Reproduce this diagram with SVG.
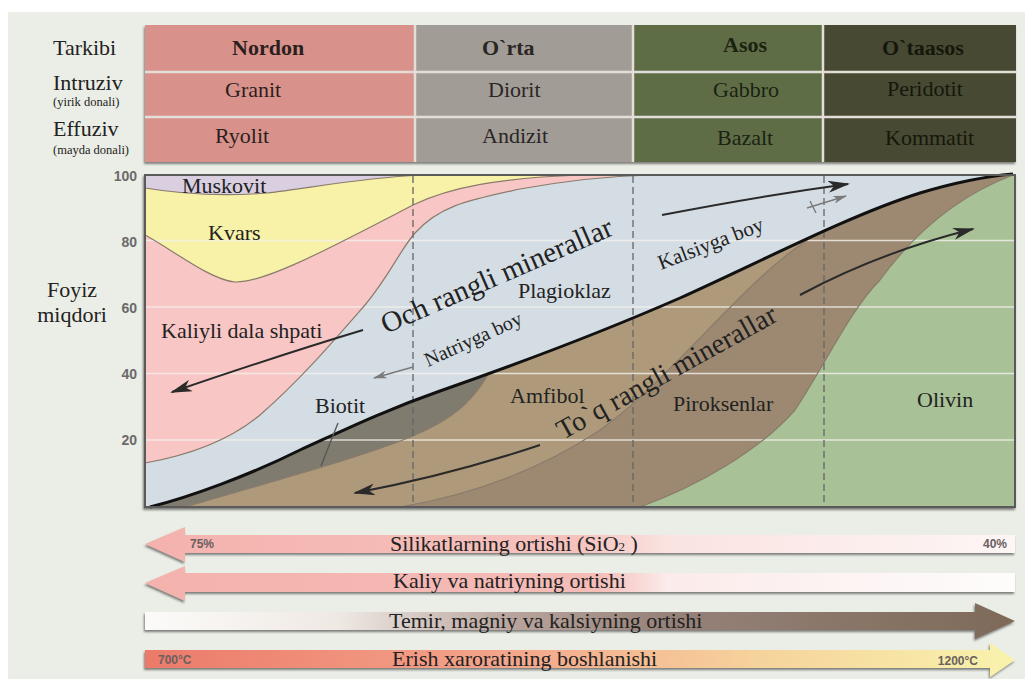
<svg xmlns="http://www.w3.org/2000/svg" width="1025" height="679" viewBox="0 0 1025 679">
<defs>
<style>
.lbl{font-family:"Liberation Serif","Times New Roman",serif;font-size:22px;fill:#222;}
.hdr{font-family:"Liberation Serif","Times New Roman",serif;font-size:22px;}
.b{font-weight:bold;}
.small{font-size:12.5px;}
.num{font-family:"Liberation Sans",Arial,sans-serif;font-weight:bold;font-size:14px;fill:#6a6a6a;}
.pct{font-family:"Liberation Sans",Arial,sans-serif;font-weight:bold;font-size:12px;fill:#6a6060;}
.bnd{fill:none;stroke:#8a7b6c;stroke-width:1.2;}
.grid{stroke:#f3f1ed;stroke-width:1.6;opacity:.8;}
.dash{stroke:#666;stroke-width:1.3;stroke-dasharray:7 4;fill:none;}
.arr{fill:none;stroke:#2a2a2a;stroke-width:2;}
.arrg{fill:none;stroke:#7a7a7a;stroke-width:1.4;}
.sep{stroke:#e3dfd8;stroke-width:2.5;}
</style>
<marker id="ah" markerUnits="userSpaceOnUse" markerWidth="22" markerHeight="12" viewBox="0 0 22 12" refX="20" refY="6" orient="auto">
<path d="M0,0 L22,6 L0,12 L6,6 Z" fill="#2a2a2a"/>
</marker>
<marker id="ahg" markerUnits="userSpaceOnUse" markerWidth="14" markerHeight="8" viewBox="0 0 14 8" refX="13" refY="4" orient="auto">
<path d="M0,0 L14,4 L0,8 L4,4 Z" fill="#7a7a7a"/>
</marker>
<linearGradient id="g1" x1="145" y1="0" x2="1015" y2="0" gradientUnits="userSpaceOnUse">
<stop offset="0" stop-color="#f4b2ad"/><stop offset="0.5" stop-color="#f6c2be"/><stop offset="0.6" stop-color="#fae3e1"/><stop offset="1" stop-color="#fdf6f5"/>
</linearGradient>
<linearGradient id="g2" x1="145" y1="0" x2="1015" y2="0" gradientUnits="userSpaceOnUse">
<stop offset="0" stop-color="#f4b2ad"/><stop offset="0.52" stop-color="#f5bcb8"/><stop offset="0.6" stop-color="#fbebea"/><stop offset="1" stop-color="#fefcfc"/>
</linearGradient>
<linearGradient id="g3" x1="145" y1="0" x2="1015" y2="0" gradientUnits="userSpaceOnUse">
<stop offset="0" stop-color="#fcfbf9"/><stop offset="0.22" stop-color="#efe9e4"/><stop offset="0.42" stop-color="#b9a59d"/><stop offset="0.6" stop-color="#968279"/><stop offset="1" stop-color="#7e6a58"/>
</linearGradient>
<linearGradient id="g4" x1="145" y1="0" x2="1015" y2="0" gradientUnits="userSpaceOnUse">
<stop offset="0" stop-color="#ec7a6a"/><stop offset="0.4" stop-color="#f3a38a"/><stop offset="0.7" stop-color="#f6d29c"/><stop offset="1" stop-color="#f8f3ac"/>
</linearGradient>
<filter id="sh" x="-5%" y="-20%" width="110%" height="150%">
<feDropShadow dx="-1" dy="2" stdDeviation="1" flood-color="#333" flood-opacity="0.6"/>
</filter>
</defs>

<rect x="0" y="0" width="1025" height="679" fill="#ffffff"/>
<rect x="8" y="12" width="1017" height="667" fill="#ebeee6"/>

<!-- left labels -->
<g id="row-labels">
<text class="lbl" x="53" y="55">Tarkibi</text>
<text class="lbl" x="53" y="90">Intruziv</text>
<text class="lbl small" x="53" y="106">(yirik donali)</text>
<text class="lbl" x="53" y="136">Effuziv</text>
<text class="lbl small" x="53" y="154">(mayda donali)</text>
</g>

<!-- table -->
<g id="table" filter="url(#sh)">
<rect x="145" y="25" width="270" height="137" fill="#d9928b"/>
<rect x="415" y="25" width="218" height="137" fill="#a29c97"/>
<rect x="633" y="25" width="190" height="137" fill="#5e6d47"/>
<rect x="823" y="25" width="193" height="137" fill="#474a33"/>
</g>
<g id="table-lines">
<line class="sep" x1="145" y1="72" x2="1016" y2="72"/>
<line class="sep" x1="145" y1="117" x2="1016" y2="117"/>
<line class="sep" x1="415" y1="25" x2="415" y2="162"/>
<line class="sep" x1="633" y1="25" x2="633" y2="162"/>
<line class="sep" x1="823" y1="25" x2="823" y2="162"/>
</g>
<g id="col-nordon" class="hdr" fill="#2b1f1d">
<text class="b" x="232" y="55">Nordon</text>
<text x="225" y="97">Granit</text>
<text x="215" y="143">Ryolit</text>
</g>
<g id="col-orta" class="hdr" fill="#2a2624">
<text class="b" x="482" y="55">O`rta</text>
<text x="488" y="97">Diorit</text>
<text x="482" y="143">Andizit</text>
</g>
<g id="col-asos" class="hdr" fill="#1b2212">
<text class="b" x="723" y="52">Asos</text>
<text x="713" y="97">Gabbro</text>
<text x="717" y="145">Bazalt</text>
</g>
<g id="col-otaasos" class="hdr" fill="#15170d">
<text class="b" x="882" y="55">O`taasos</text>
<text x="887" y="96">Peridotit</text>
<text x="885" y="145">Kommatit</text>
</g>

<!-- axis -->
<g id="axis">
<text class="lbl" x="72" y="297" text-anchor="middle">Foyiz</text>
<text class="lbl" x="72" y="322" text-anchor="middle">miqdori</text>
<text class="num" x="137" y="181" text-anchor="end">100</text>
<text class="num" x="137" y="247" text-anchor="end">80</text>
<text class="num" x="137" y="313" text-anchor="end">60</text>
<text class="num" x="137" y="379" text-anchor="end">40</text>
<text class="num" x="137" y="445" text-anchor="end">20</text>
</g>

<!-- chart regions -->
<g id="chart">
<rect x="145" y="175" width="870" height="332" fill="#a8c196" stroke="#555" stroke-width="2" filter="url(#sh)"/>
<path id="piroksen" d="M145,175 L145,507 L640,507 C700,485 760,450 795,410 C825,365 850,310 880,280 C915,232 960,195 1013,175 Z" fill="#9d8971"/>
<path id="amfibol" d="M145,175 L145,507 L400,507 C470,495 540,470 600,430 C650,395 700,335 760,278 C785,255 805,240 826,229 L826,175 Z" fill="#ae9a7a"/>
<path id="biotit" d="M145,175 L145,507 L185,507 C260,485 360,458 413,436 C450,420 470,405 488,375 L488,175 Z" fill="#7f7b6f"/>
<path id="plagioklaz" d="M145,175 L145,507 L150,507 C190,497 250,475 300,450 C340,432 380,412 440,391 C520,363 600,333 680,298 C760,262 850,215 920,193 C960,181 990,176 1013,175 Z" fill="#d5dde4"/>
<path id="kaliy" d="M145,175 L145,463 C190,455 230,440 260,415 C300,380 330,345 365,305 C390,275 400,250 415,233 C440,205 470,200 520,189 C570,180 610,176 650,175 Z" fill="#f8c6c4"/>
<path id="kvars" d="M145,175 L145,235 C170,248 210,280 235,282 C265,283 330,248 413,205 C450,187 500,178 580,175 Z" fill="#f7f2a7"/>
<path id="muskovit" d="M145,175 L145,188 C175,193 215,197 267,193 C310,188 360,178 420,175 Z" fill="#d9cfe1"/>
</g>
<g id="grid">
<line class="grid" x1="146" y1="240.5" x2="1014" y2="240.5"/>
<line class="grid" x1="146" y1="307" x2="1014" y2="307"/>
<line class="grid" x1="146" y1="373.5" x2="1014" y2="373.5"/>
<line class="grid" x1="146" y1="440" x2="1014" y2="440"/>
</g>
<g id="boundaries">
<path class="bnd" d="M145,188 C175,193 215,197 267,193 C310,188 360,178 420,175"/>
<path class="bnd" d="M145,235 C170,248 210,280 235,282 C265,283 330,248 413,205 C450,187 500,178 580,175"/>
<path class="bnd" d="M145,463 C190,455 230,440 260,415 C300,380 330,345 365,305 C390,275 400,250 415,233 C440,205 470,200 520,189 C570,180 610,176 650,175"/>
<path class="bnd" d="M185,507 C260,485 360,458 413,436 C450,420 470,405 488,375"/>
<path class="bnd" d="M400,507 C470,495 540,470 600,430 C650,395 700,335 760,278 C785,255 805,240 826,229"/>
<path class="bnd" d="M640,507 C700,485 760,450 795,410 C825,365 850,310 880,280 C915,232 960,195 1013,175"/>
</g>
<g id="dashes">
<line class="dash" x1="413" y1="176" x2="413" y2="506"/>
<line class="dash" x1="633" y1="176" x2="633" y2="506"/>
<line class="dash" x1="824" y1="176" x2="824" y2="506"/>
</g>
<path id="main-boundary" d="M150,507 C190,497 250,475 300,450 C340,432 380,412 440,391 C520,363 600,333 680,298 C760,262 850,215 920,193 C960,181 990,176 1013,174" fill="none" stroke="#111" stroke-width="3"/>
<rect x="145" y="175" width="870" height="332" fill="none" stroke="#5a5a5a" stroke-width="2"/>

<!-- connectors -->
<g id="connectors">
<path class="arr" d="M363,330 Q280,355 172,392" marker-end="url(#ah)"/>
<path class="arr" d="M540,445 Q450,475 355,493" marker-end="url(#ah)"/>
<path class="arr" d="M662,215 Q760,196 848,184" marker-end="url(#ah)"/>
<path class="arr" d="M800,295 Q880,252 973,229" marker-end="url(#ah)"/>
<path class="arrg" d="M413,367 L374,378" marker-end="url(#ahg)"/>
<path class="arrg" d="M807,208 L846,196" marker-end="url(#ahg)"/>
<path class="arrg" d="M810,201 L816,213"/>
<path d="M338,423 L321,466" fill="none" stroke="#555" stroke-width="1.3"/>
</g>

<!-- chart labels -->
<g id="chart-labels" class="lbl">
<text x="182" y="193">Muskovit</text>
<text x="208" y="240">Kvars</text>
<text x="161" y="338">Kaliyli dala shpati</text>
<text x="315" y="413">Biotit</text>
<text x="518" y="298">Plagioklaz</text>
<text x="510" y="403">Amfibol</text>
<text x="673" y="411">Piroksenlar</text>
<text x="917" y="407">Olivin</text>
<text transform="translate(386,334) rotate(-23.5)" style="font-size:29px">Och rangli minerallar</text>
<text transform="translate(428,367) rotate(-24.5)" style="font-size:20px">Natriyga boy</text>
<text transform="translate(661,270) rotate(-21)" style="font-size:21px">Kalsiyga boy</text>
<text transform="translate(563,440) rotate(-29)" style="font-size:28px">To`q rangli minerallar</text>
</g>

<!-- bottom arrows -->
<g id="arrow-sio2">
<path d="M145,544 L185,527 L185,535 L1015,535 L1015,553 L185,553 L185,562 Z" fill="url(#g1)" filter="url(#sh)"/>
<text class="pct" x="190" y="548">75%</text>
<text class="pct" x="1007" y="548" text-anchor="end">40%</text>
<text class="lbl" x="390" y="551">Silikatlarning ortishi (SiO<tspan style="font-size:13px">2</tspan> )</text>
</g>
<g id="arrow-kaliy">
<path d="M145,583 L185,566 L185,573 L1015,573 L1015,592 L185,592 L185,601 Z" fill="url(#g2)" filter="url(#sh)"/>
<text class="lbl" x="393" y="588">Kaliy va natriyning ortishi</text>
</g>
<g id="arrow-temir">
<path d="M145,612 L975,612 L975,603 L1015,621 L975,639 L975,630 L145,630 Z" fill="url(#g3)" filter="url(#sh)"/>
<text class="lbl" x="389" y="628">Temir, magniy va kalsiyning ortishi</text>
</g>
<g id="arrow-erish">
<path d="M145,650 L990,650 L990,643 L1015,660 L990,677 L990,668 L145,668 Z" fill="url(#g4)" filter="url(#sh)"/>
<text class="pct" x="158" y="664">700°C</text>
<text class="pct" x="978" y="665" text-anchor="end">1200°C</text>
<text class="lbl" x="392" y="666">Erish xaroratining boshlanishi</text>
</g>
</svg>
